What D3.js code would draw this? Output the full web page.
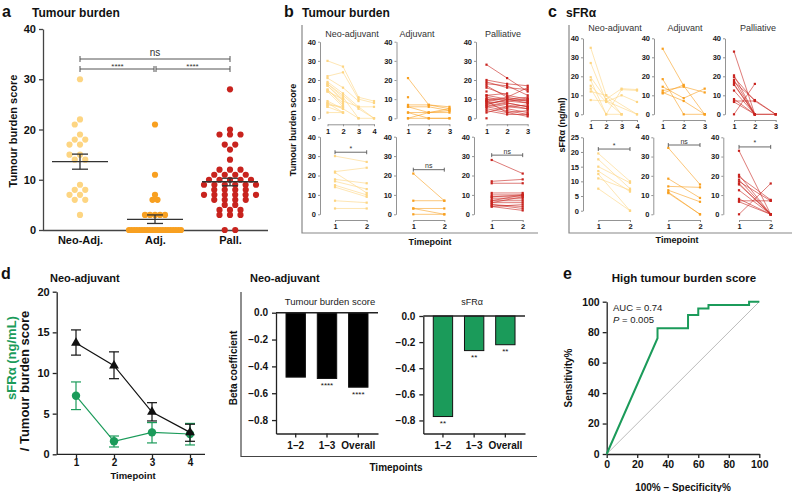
<!DOCTYPE html>
<html><head><meta charset="utf-8">
<script src="https://cdn.jsdelivr.net/npm/d3@7"></script>
<style>body{margin:0;background:#fff}svg{font-family:"Liberation Sans",Arial,Helvetica,sans-serif}</style>
</head><body>
<svg width="792" height="492"></svg>
<script>
// ---------------- DATA ----------------
// Panel a
const groupsA = ["Neo-Adj.", "Adj.", "Pall."];
const ticksA = [0, 10, 20, 30, 40];
const neoScores = [30,22,21,19,18,18,17,17,15,15,14,14,9,8,8,7,7,6,6,3];
const adjScores = [21,11,7,6,6,3,3,3,3,3,0,0,0,0,0,0,0,0,0,0,0,0,0,0,0,0,0,0,0,0,0];
const pallScores = [28,20,19,19,19,17,17,16,14,12,12,12,11,11,11,11,10,10,10,10,10,9,9,9,9,9,9,8,8,8,8,7,7,7,7,7,7,6,6,6,6,5,5,4,4,4,3,3,3,0,0];
const meanA = [13.6, 2.1, 9.6];
const semLowA = [12.1, 1.3, 8.8];
const semHighA = [15.1, 3.0, 10.3];

// Panel b (tumour burden score per patient across timepoints)
const bNeoTop = [[30,27,11,9],[22,24,10,8],[21,16,9,null],[19,13,6,0],[18,12,5,0],[18,11,0,null],[17,10,null,null],[17,9,6,6],[15,8,null,null],[15,7,null,null],[14,10,null,null],[14,6,null,null],[9,5,0,0],[8,5,null,null],[8,3,null,null],[7,6,null,null],[7,null,null,null],[6,3,null,null],[6,null,null,null],[3,3,null,null]];
const bAdjTop = [[21,7,5],[11,null,null],[7,7,6],[6,6,4],[6,3,3],[3,3,5],[3,0,0],[0,0,0],[0,3,4]];
const bPallTop = [[28,21,14],[20,18,17],[19,16,15],[18,17,12],[17,11,16],[16,12,10],[12,10,9],[11,9,8],[10,10,11],[10,8,6],[9,11,9],[9,7,5],[8,9,10],[8,6,7],[7,10,8],[7,5,3],[6,8,6],[6,4,2],[5,3,4],[4,2,2],[3,6,5],[0,null,null],[12,13,null],[14,null,null],[9,3,1]];
const bNeoBot = [[30,27],[22,24],[21.5,11],[18,16],[17,13],[15,10],[14,9],[7,6],[3,3]];
const bAdjBot = [[21,7],[7,7],[3,3],[3,0],[0,0]];
const bPallBot = [[28,21],[17,18],[16,16],[11,11],[10,10],[9,10],[9,9],[8,8],[7,10],[7,7],[6,9],[6,6],[5,4],[5,3],[4,2],[4,5]];

// Panel c (sFRα ng/ml per patient)
const cNeoTop = [[35,10,0,null],[27,7,null,0],[19.5,8,13.5,13],[18,0,13,12.5],[15,6.5,10,6.5],[13.5,0,0,null],[12,10,null,0],[7.5,7,0,null]];
const cAdjTop = [[34.5,15,0],[18.5,0,0],[14.5,8.5,13.5],[12.5,14.5,11.5],[11.5,7,0],[11,15.5,null]];
const cPallTop = [[33,0,null],[20.5,0,0],[19.5,7,null],[18,0,0],[17,7.5,0],[16,0,null],[15.5,0,null],[12.5,0,null],[8,0,null],[7,7,0],[6.5,0,null],[0,16,null]];
const cNeoBot = [[19.5,10],[17.5,7.5],[15,9.5],[13.5,6.5],[12.5,0],[11,7],[7.5,0]];
const cAdjBot = [[34.5,15.5],[18.5,8.5],[14.5,14],[12.5,6.5],[11.5,0],[11,0]];
const cPallBot = [[33,0],[20.5,0],[19.5,7.5],[18,0],[17,7],[16,0],[15.5,0],[12.5,0],[8,0],[7,7],[6.5,0],[0,16]];

// Panel d (line chart)
const tpD = [1, 2, 3, 4];
const tbMean = [13.7, 10.9, 5.2, 2.7];
const tbLow = [12.2, 9.3, 4.1, 1.6];
const tbHigh = [15.3, 12.6, 6.35, 3.7];
const sfMean = [7.2, 1.6, 2.7, 2.5];
const sfLow = [5.5, 0.9, 1.4, 1.15];
const sfHigh = [8.9, 2.25, 3.9, 3.8];

// Panel d (beta coefficients)
const betaCats = ["1–2", "1–3", "Overall"];
const betaTicks = [0, -0.2, -0.4, -0.6, -0.8];
const betaTB = [-0.48, -0.49, -0.555];
const betaTBsig = ["", "****", "****"];
const betaSF = [-0.77, -0.265, -0.22];
const betaSFsig = ["**", "**", "**"];

// Panel e (ROC)
const rocX = [0, 33.3, 33.3, 53.3, 53.3, 60, 60, 66.7, 66.7, 93.3, 93.3, 100];
const rocY = [0, 76, 82.6, 82.6, 91.3, 91.3, 95.6, 95.6, 97.8, 97.8, 100, 100];
const rocTicks = [0, 20, 40, 60, 80, 100];

// ---------------- DRAW ----------------
const C_NEO = "#FDD582", C_ADJ = "#F8A020", C_PALL = "#C8231E", C_GREEN = "#1B9B5A";
const svg = d3.select("svg");

function txt(g, x, y, s, o = {}) {
  const t = g.append("text").attr("x", x).attr("y", y).text(s)
    .attr("font-size", o.size || 10).attr("font-weight", o.bold ? "bold" : "normal")
    .attr("text-anchor", o.anchor || "start").style("fill", o.fill || "#111")
    .attr("dominant-baseline", "central");
  if (o.rotate) t.attr("transform", `rotate(-90,${x},${y})`);
  return t;
}
function styleAxis(sel, size, bold, color, width, textColor) {
  sel.select(".domain").attr("stroke", color).attr("stroke-width", width);
  sel.selectAll(".tick line").attr("stroke", color).attr("stroke-width", width);
  sel.selectAll(".tick text").attr("font-size", size).attr("font-weight", bold ? "bold" : "normal")
    .attr("fill", null).style("fill", textColor || "#111").attr("font-family", null);
}

// ===== Panel a =====
(function () {
  const g = svg.append("g");
  txt(g, 2, 11, "a", { size: 16, bold: true });
  txt(g, 32, 13, "Tumour burden", { size: 12, bold: true });
  const y = d3.scaleLinear().domain([0, 40]).range([230, 29]);
  const x = d3.scalePoint().domain(groupsA).range([42.5, 267.5]).padding(0.5);
  g.append("g").attr("transform", "translate(43,0)")
    .call(d3.axisLeft(y).tickValues(ticksA).tickSize(4).tickSizeOuter(0).tickPadding(3))
    .call(styleAxis, 11, true, "#444", 1.3);
  g.append("g").attr("transform", "translate(0,230)")
    .call(d3.axisBottom(x).tickSize(0).tickSizeOuter(0).tickPadding(6))
    .call(styleAxis, 11, true, "#444", 1.3);
  txt(g, 13, 131, "Tumour burden score", { size: 11, bold: true, anchor: "middle", rotate: true });

  const R = 3.1;
  // beeswarm layout (greedy, smallest offset without overlap)
  function swarm(vals, step) {
    const placed = [];
    [...vals].sort((a, b) => b - a).forEach(v => {
      const py = y(v);
      for (let k = 0; k < 40; k++) {
        const dx = (k % 2 ? -1 : 1) * Math.ceil(k / 2) * step;
        const ok = placed.every(p => Math.hypot(p.dx - dx, p.py - py) >= 2 * R + 0.6);
        if (ok) { placed.push({ v, dx, py }); break; }
      }
    });
    return placed;
  }
  function rows(vals, sp) {
    const out = [];
    for (const [v, arr] of d3.group(vals, v => v)) {
      const n = arr.length;
      const s = n > 1 ? Math.min(sp, 52 / (n - 1)) : 0;
      arr.forEach((_, k) => out.push({ v, dx: (k - (n - 1) / 2) * s, py: y(v) }));
    }
    return out;
  }
  const sets = [[swarm(neoScores, 5.25), C_NEO], [rows(adjScores, 5), C_ADJ], [rows(pallScores, 10.5), C_PALL]];
  sets.forEach(([pts, col], gi) => {
    const cx = x(groupsA[gi]);
    g.selectAll(null).data(pts).enter().append("circle")
      .attr("cx", d => cx + d.dx).attr("cy", d => y(d.v)).attr("r", R).attr("fill", col);
    const eb = g.append("g").attr("stroke", "#333").attr("stroke-width", 1.3);
    eb.append("line").attr("x1", cx - 28).attr("x2", cx + 28).attr("y1", y(meanA[gi])).attr("y2", y(meanA[gi]));
    eb.append("line").attr("x1", cx).attr("x2", cx).attr("y1", y(semLowA[gi])).attr("y2", y(semHighA[gi]));
    [semLowA[gi], semHighA[gi]].forEach(v => eb.append("line").attr("x1", cx - 8).attr("x2", cx + 8).attr("y1", y(v)).attr("y2", y(v)));
  });
  // significance brackets
  const br = g.append("g").attr("stroke", "#555").attr("stroke-width", 1);
  const bracket = (x1, x2, yy) => {
    br.append("line").attr("x1", x1).attr("x2", x2).attr("y1", yy).attr("y2", yy);
    [x1, x2].forEach(xx => br.append("line").attr("x1", xx).attr("x2", xx).attr("y1", yy - 3).attr("y2", yy + 3));
  };
  bracket(x("Neo-Adj."), x("Pall."), 59);
  bracket(x("Neo-Adj."), x("Adj.") - 1, 69);
  bracket(x("Adj.") + 1, x("Pall."), 69);
  txt(g, (x("Neo-Adj.") + x("Pall.")) / 2, 52, "ns", { size: 10, anchor: "middle", fill: "#333" });
  txt(g, (x("Neo-Adj.") + x("Adj.")) / 2, 66, "****", { size: 8, anchor: "middle", fill: "#333" });
  txt(g, (x("Adj.") + x("Pall.")) / 2, 66, "****", { size: 8, anchor: "middle", fill: "#333" });
})();

// ===== spaghetti subplot =====
function spaghetti(g, o) {
  const nT = o.series[0].length;
  const y = d3.scaleLinear().domain([0, o.ymax]).range([o.y0, o.y1]);
  const x = d3.scaleLinear().domain([1, nT]).range([o.x1, o.xN]);
  g.append("g").attr("transform", `translate(${o.ax},0)`)
    .call(d3.axisLeft(y).tickValues(o.ticks).tickSize(2).tickSizeOuter(0).tickPadding(2))
    .call(styleAxis, 7.5, true, "#888", 0.9, "#1a1a1a");
  g.append("g").attr("transform", `translate(0,${o.xAxisY})`)
    .call(d3.axisBottom(x).tickValues(d3.range(1, nT + 1)).tickFormat(d3.format("d")).tickSize(2).tickSizeOuter(0).tickPadding(2))
    .call(styleAxis, 7.5, true, "#888", 0.9, "#1a1a1a");
  if (o.title) txt(g, o.titleX, o.titleY, o.title, { size: 9, anchor: "middle", fill: "#333" });
  const line = d3.line().x(d => x(d.t)).y(d => y(d.v));
  o.series.forEach(s => {
    const pts = s.map((v, i) => ({ t: i + 1, v })).filter(d => d.v != null);
    g.append("path").attr("d", line(pts)).attr("fill", "none").attr("stroke", o.color)
      .attr("stroke-width", 0.8).attr("stroke-opacity", 0.75);
    pts.forEach(d => g.append("rect").attr("x", x(d.t) - 1.1).attr("y", y(d.v) - 1.1)
      .attr("width", 2.2).attr("height", 2.2).attr("fill", o.color));
  });
  if (o.sig) {
    const yy = y(o.sigY);
    const b = g.append("g").attr("stroke", "#444").attr("stroke-width", 0.8);
    b.append("line").attr("x1", x(1)).attr("x2", x(2)).attr("y1", yy).attr("y2", yy);
    [1, 2].forEach(t => b.append("line").attr("x1", x(t)).attr("x2", x(t)).attr("y1", yy - 2).attr("y2", yy + 2));
    txt(g, (x(1) + x(2)) / 2, yy - 4, o.sig, { size: 7, anchor: "middle", fill: "#333" });
  }
}

// ===== Panel b =====
(function () {
  const g = svg.append("g");
  txt(g, 284, 11, "b", { size: 16, bold: true });
  txt(g, 302, 13, "Tumour burden", { size: 12, bold: true });
  g.append("path").attr("d", "M302,25V233H538").attr("fill", "none").attr("stroke", "#888").attr("stroke-width", 1.2);
  const t40 = [0, 10, 20, 30, 40];
  const top = { y0: 118.3, y1: 41.7, xAxisY: 124.3, titleY: 34, ymax: 40, ticks: t40 };
  spaghetti(g, { ...top, ax: 320, x1: 327.5, xN: 374, title: "Neo-adjuvant", titleX: 352, series: bNeoTop, color: C_NEO });
  spaghetti(g, { ...top, ax: 396.5, x1: 408, xN: 449.5, title: "Adjuvant", titleX: 417, series: bAdjTop, color: C_ADJ });
  spaghetti(g, { ...top, ax: 476, x1: 486.5, xN: 527.7, title: "Palliative", titleX: 503, series: bPallTop, color: C_PALL });
  const bot = { y0: 214.3, y1: 136.7, xAxisY: 220, ymax: 40, ticks: t40 };
  spaghetti(g, { ...bot, ax: 320, x1: 335, xN: 366.7, series: bNeoBot, color: C_NEO, sig: "*", sigY: 32 });
  spaghetti(g, { ...bot, ax: 396, x1: 413.3, xN: 444.3, series: bAdjBot, color: C_ADJ, sig: "ns", sigY: 23 });
  spaghetti(g, { ...bot, ax: 474, x1: 491.7, xN: 522.7, series: bPallBot, color: C_PALL, sig: "ns", sigY: 30.5 });
  txt(g, 293, 130, "Tumour burden score", { size: 9, bold: true, anchor: "middle", rotate: true });
  txt(g, 430, 242, "Timepoint", { size: 9, bold: true, anchor: "middle" });
})();

// ===== Panel c =====
(function () {
  const g = svg.append("g");
  txt(g, 548, 11, "c", { size: 16, bold: true });
  txt(g, 566, 13, "sFRα", { size: 12, bold: true });
  g.append("path").attr("d", "M569,25V233H792").attr("fill", "none").attr("stroke", "#888").attr("stroke-width", 1.2);
  const t40 = [0, 10, 20, 30, 40];
  const top = { y0: 114.3, y1: 38.3, xAxisY: 120, titleY: 28.3, ymax: 40, ticks: t40 };
  spaghetti(g, { ...top, ax: 583, x1: 590.7, xN: 637, title: "Neo-adjuvant", titleX: 615, series: cNeoTop, color: C_NEO });
  spaghetti(g, { ...top, ax: 654, x1: 662.7, xN: 704.7, title: "Adjuvant", titleX: 685, series: cAdjTop, color: C_ADJ });
  spaghetti(g, { ...top, ax: 725, x1: 734, xN: 775.7, title: "Palliative", titleX: 758, series: cPallTop, color: C_PALL });
  spaghetti(g, { xAxisY: 220, ymax: 25, ticks: [0, 5, 10, 15, 20, 25], y0: 210.7, y1: 137.3, ax: 583, x1: 598.3, xN: 630, series: cNeoBot, color: C_NEO, sig: "*", sigY: 21 });
  spaghetti(g, { xAxisY: 220, ymax: 40, ticks: t40, y0: 214.3, y1: 137.3, ax: 653.3, x1: 668.3, xN: 700, series: cAdjBot, color: C_ADJ, sig: "ns", sigY: 36 });
  spaghetti(g, { xAxisY: 220, ymax: 40, ticks: t40, y0: 214.3, y1: 137.3, ax: 723.3, x1: 739, xN: 770.7, series: cPallBot, color: C_PALL, sig: "*", sigY: 35 });
  txt(g, 561.5, 125, "sFRα (ng/ml)", { size: 9, bold: true, anchor: "middle", rotate: true });
  txt(g, 677, 240, "Timepoint", { size: 9, bold: true, anchor: "middle" });
})();

// ===== Panel d (line chart) =====
(function () {
  const g = svg.append("g");
  txt(g, 1, 273, "d", { size: 16, bold: true });
  txt(g, 50, 278, "Neo-adjuvant", { size: 11, bold: true });
  const y = d3.scaleLinear().domain([0, 20]).range([454.3, 291.7]);
  const x = d3.scaleLinear().domain([1, 4]).range([76, 190]);
  g.append("g").attr("transform", "translate(56.7,0)")
    .call(d3.axisLeft(y).tickValues([0, 5, 10, 15, 20]).tickSize(4).tickSizeOuter(0).tickPadding(3))
    .call(styleAxis, 11, true, "#222", 1.3);
  const xAxG = g.append("g").attr("transform", "translate(0,454.3)")
    .call(d3.axisBottom(x).tickValues(tpD).tickFormat(d3.format("d")).tickSize(4).tickSizeOuter(0).tickPadding(1))
    .call(styleAxis, 10, true, "#222", 1.3);
  xAxG.select(".domain").attr("d", "M56.7,0H205");
  txt(g, 133, 475.5, "Timepoint", { size: 9.5, bold: true, anchor: "middle" });
  txt(g, 11, 358, "sFRα (ng/mL)", { size: 13, bold: true, anchor: "middle", rotate: true, fill: C_GREEN });
  txt(g, 24, 381, "/ Tumour burden score", { size: 13, bold: true, anchor: "middle", rotate: true });

  const drawSeries = (mean, lo, hi, col, shape) => {
    const line = d3.line().x((d, i) => x(tpD[i])).y(d => y(d));
    g.append("path").attr("d", line(mean)).attr("fill", "none").attr("stroke", col).attr("stroke-width", 1.2);
    tpD.forEach((t, i) => {
      const cx = x(t);
      const e = g.append("g").attr("stroke", col).attr("stroke-width", 1.2);
      e.append("line").attr("x1", cx).attr("x2", cx).attr("y1", y(lo[i])).attr("y2", y(hi[i]));
      [lo[i], hi[i]].forEach(v => e.append("line").attr("x1", cx - 5).attr("x2", cx + 5).attr("y1", y(v)).attr("y2", y(v)));
      if (shape === "tri") {
        g.append("path").attr("d", d3.symbol(d3.symbolTriangle, 42)()).attr("transform", `translate(${cx},${y(mean[i])})`).attr("fill", col);
      } else {
        g.append("circle").attr("cx", cx).attr("cy", y(mean[i])).attr("r", 4.2).attr("fill", col);
      }
    });
  };
  drawSeries(sfMean, sfLow, sfHigh, C_GREEN, "circle");
  drawSeries(tbMean, tbLow, tbHigh, "#111", "tri");
})();

// ===== Panel d (beta bars) =====
(function () {
  const g = svg.append("g");
  txt(g, 250, 278, "Neo-adjuvant", { size: 11, bold: true });
  g.append("path").attr("d", "M241,292V456.5H537").attr("fill", "none").attr("stroke", "#444").attr("stroke-width", 1.2);
  txt(g, 233, 368, "Beta coefficient", { size: 10, bold: true, anchor: "middle", rotate: true });
  txt(g, 396, 467, "Timepoints", { size: 10, bold: true, anchor: "middle" });

  const bars = (o) => {
    const y = d3.scaleLinear().domain([-0.9, 0]).range([433.5, o.y0]);
    const x = d3.scaleBand().domain(betaCats).range([o.ax, o.xEnd]).paddingInner(0.38).paddingOuter(0.32);
    g.append("g").attr("transform", `translate(${o.ax},0)`)
      .call(d3.axisLeft(y).tickValues(betaTicks).tickFormat(d3.format(".1f")).tickSize(4).tickSizeOuter(0).tickPadding(4))
      .call(styleAxis, 10, true, "#222", 1.3);
    g.append("g").attr("transform", "translate(0,433.5)")
      .call(d3.axisBottom(x).tickSize(4).tickSizeOuter(0).tickPadding(4))
      .call(styleAxis, 10, true, "#222", 1.3);
    g.selectAll(null).data(o.vals).enter().append("rect")
      .attr("x", (d, i) => x(betaCats[i])).attr("width", x.bandwidth())
      .attr("y", y(0)).attr("height", d => y(d) - y(0))
      .attr("fill", o.fill).attr("stroke", "#111").attr("stroke-width", 1);
    g.append("line").attr("x1", o.ax).attr("x2", o.xEnd).attr("y1", y(0)).attr("y2", y(0))
      .attr("stroke", "#222").attr("stroke-width", 1.5);
    o.sig.forEach((s, i) => { if (s) txt(g, x(betaCats[i]) + x.bandwidth() / 2, y(o.vals[i]) + 7, s, { size: 8, anchor: "middle" }); });
    txt(g, o.titleX, 301.7, o.title, { size: o.titleSize, anchor: "middle", fill: "#222" });
  };
  bars({ ax: 276, xEnd: 378, y0: 312.7, vals: betaTB, sig: betaTBsig, fill: "#000", title: "Tumour burden score", titleX: 330, titleSize: 9.5 });
  bars({ ax: 423.3, xEnd: 525, y0: 316, vals: betaSF, sig: betaSFsig, fill: C_GREEN, title: "sFRα", titleX: 472, titleSize: 9 });
})();

// ===== Panel e (ROC) =====
(function () {
  const g = svg.append("g");
  txt(g, 563, 273, "e", { size: 16, bold: true });
  txt(g, 684, 278, "High tumour burden score", { size: 11.5, bold: true, anchor: "middle" });
  const x = d3.scaleLinear().domain([0, 100]).range([606.7, 759.3]);
  const y = d3.scaleLinear().domain([0, 100]).range([454, 301.7]);
  g.append("g").attr("transform", "translate(606.7,0)")
    .call(d3.axisLeft(y).tickValues(rocTicks).tickSize(4).tickSizeOuter(0).tickPadding(3))
    .call(styleAxis, 10.5, true, "#222", 1.3);
  g.append("g").attr("transform", "translate(0,454)")
    .call(d3.axisBottom(x).tickValues(rocTicks).tickSize(4).tickSizeOuter(0).tickPadding(3))
    .call(styleAxis, 10.5, true, "#222", 1.3);
  g.append("line").attr("x1", x(0)).attr("y1", y(0)).attr("x2", x(100)).attr("y2", y(100))
    .attr("stroke", "#aaa").attr("stroke-width", 0.8);
  const line = d3.line().x((d, i) => x(rocX[i])).y(d => y(d));
  g.append("path").attr("d", line(rocY)).attr("fill", "none").attr("stroke", C_GREEN).attr("stroke-width", 2);
  txt(g, 613, 307.5, "AUC = 0.74", { size: 9.5, fill: "#222" });
  const p = txt(g, 613, 318.5, "", { size: 9.5, fill: "#222" });
  p.append("tspan").attr("font-style", "italic").text("P");
  p.append("tspan").text(" = 0.005");
  txt(g, 568, 378, "Sensitivity%", { size: 10, bold: true, anchor: "middle", rotate: true });
  txt(g, 683, 487, "100% – Specificity%", { size: 10, bold: true, anchor: "middle" });
})();
</script>
</body></html>
